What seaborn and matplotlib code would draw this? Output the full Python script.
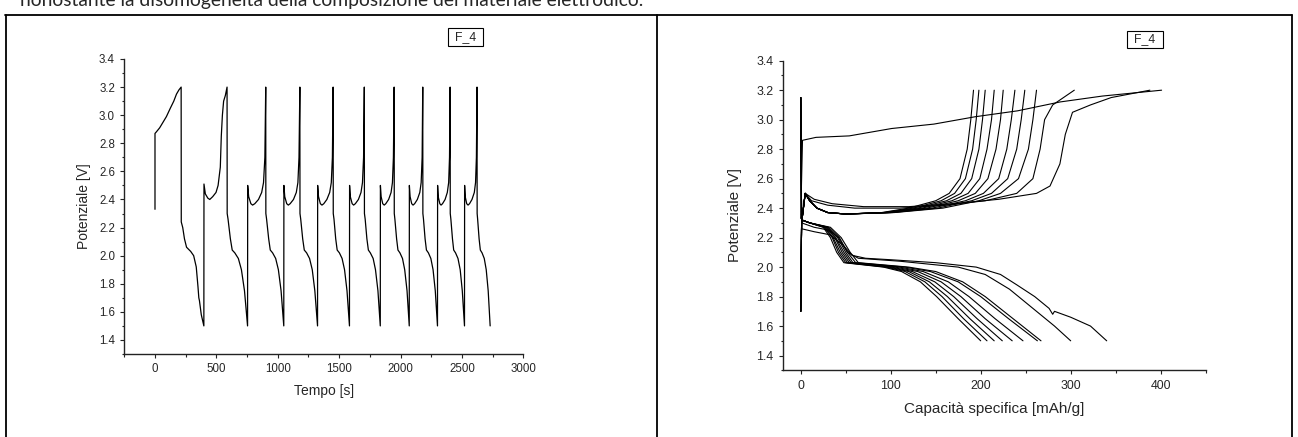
import matplotlib
matplotlib.use("Agg")
import matplotlib.pyplot as plt
from matplotlib.patches import Rectangle
from matplotlib.lines import Line2D
from matplotlib.ticker import MultipleLocator, FormatStrFormatter
import pandas as pd
import seaborn as sns

W, H = 1298, 437

# ---------------- left panel: potential vs time ----------------
FIRST_CHARGE_T = [0, 0, 10, 38, 65, 93, 125, 153, 175, 195, 213]
FIRST_CHARGE_V = [2.33, 2.87, 2.88, 2.91, 2.95, 2.99, 3.05, 3.10, 3.15, 3.18, 3.20]

DIS1_T = [213, 214, 226, 240, 257, 291, 315, 336, 350, 357, 362, 377, 398]
DIS1_V = [3.20, 2.24, 2.20, 2.12, 2.06, 2.03, 2.00, 1.92, 1.78, 1.70, 1.68, 1.58, 1.50]

CH2_T = [398, 399, 410, 430, 446, 470, 497, 514, 532, 540, 549, 559, 573, 587]
CH2_V = [1.50, 2.51, 2.44, 2.41, 2.40, 2.42, 2.45, 2.50, 2.63, 2.85, 3.00, 3.10, 3.14, 3.20]

# discharges of cycles 2..10 (same voltage readings, own time readings)
DIS_V = [3.20, 2.30, 2.26, 2.12, 2.04, 2.02, 1.98, 1.90, 1.75, 1.50]
DIS_T = [
    [587, 588, 595, 614, 629, 650, 679, 704, 729, 754],
    [902, 903, 909, 926, 939, 958, 983, 1005, 1027, 1049],
    [1180, 1181, 1187, 1203, 1216, 1235, 1259, 1281, 1302, 1324],
    [1451, 1452, 1458, 1472, 1484, 1502, 1524, 1544, 1564, 1584],
    [1705, 1706, 1712, 1726, 1738, 1754, 1777, 1796, 1816, 1835],
    [1948, 1949, 1954, 1968, 1979, 1995, 2016, 2034, 2053, 2071],
    [2181, 2182, 2187, 2200, 2211, 2227, 2247, 2265, 2283, 2301],
    [2404, 2405, 2410, 2423, 2433, 2448, 2468, 2486, 2503, 2521],
    [2623, 2624, 2628, 2640, 2650, 2664, 2682, 2698, 2714, 2730],
]

# charges of cycles 3..10
CH_V = [1.50, 2.50, 2.42, 2.37, 2.36, 2.37, 2.40, 2.45, 2.52, 2.70, 3.00, 3.20]
CH_T = [
    [754, 755, 763, 781, 795, 813, 843, 869, 884, 895, 899, 902],
    [1049, 1050, 1057, 1073, 1086, 1101, 1128, 1151, 1164, 1173, 1177, 1180],
    [1324, 1325, 1332, 1347, 1360, 1375, 1400, 1423, 1436, 1445, 1449, 1451],
    [1584, 1585, 1591, 1606, 1618, 1632, 1657, 1678, 1690, 1699, 1703, 1705],
    [1835, 1836, 1842, 1855, 1867, 1880, 1903, 1923, 1934, 1942, 1946, 1948],
    [2071, 2072, 2078, 2091, 2102, 2115, 2137, 2157, 2168, 2176, 2179, 2181],
    [2301, 2302, 2307, 2320, 2330, 2342, 2363, 2381, 2392, 2399, 2402, 2404],
    [2521, 2522, 2527, 2539, 2550, 2562, 2582, 2601, 2611, 2618, 2621, 2623],
]

# ---------------- right panel: potential vs specific capacity ----------------
FIRST_CAP = [0, 2, 17, 54, 101, 148, 194, 241, 288, 335, 401]
FIRST_CAP_V = [2.33, 2.86, 2.88, 2.89, 2.94, 2.97, 3.02, 3.06, 3.12, 3.16, 3.20]

CHG_V = [1.70, 2.30, 2.50, 2.45, 2.40, 2.37, 2.36, 2.37, 2.40, 2.45, 2.50, 2.60, 2.80, 3.00, 3.20]
CHG_CAP = [
    [0, 1, 5, 10, 18, 30, 50, 90, 120, 150, 165, 177, 185, 189, 192],
    [0, 1, 5, 10, 18, 30, 50, 92, 125, 156, 171, 183, 191, 195, 198],
    [0, 1, 5, 10, 18, 30, 50, 94, 130, 162, 178, 190, 198, 202, 205],
    [0, 1, 5, 10, 18, 30, 50, 96, 135, 168, 186, 199, 207, 212, 215],
    [0, 1, 5, 10, 18, 30, 50, 98, 140, 175, 194, 208, 217, 222, 225],
    [0, 1, 5, 10, 18, 30, 50, 100, 146, 183, 203, 220, 229, 234, 238],
    [0, 1, 5, 10, 18, 30, 50, 102, 152, 190, 212, 230, 240, 245, 249],
    [0, 1, 5, 10, 18, 30, 50, 104, 158, 198, 222, 242, 253, 258, 262],
]
CHG_LONG1_V = [1.70, 2.30, 2.50, 2.45, 2.42, 2.40, 2.40, 2.42, 2.45, 2.50, 2.60, 2.80, 3.00, 3.10, 3.15, 3.20]
CHG_LONG1_CAP = [0, 1, 5, 12, 30, 60, 110, 160, 205, 240, 258, 266, 271, 280, 292, 304]
CHG_LONG2_V = [1.70, 2.30, 2.50, 2.46, 2.43, 2.41, 2.41, 2.43, 2.46, 2.50, 2.55, 2.70, 2.90, 3.05, 3.10, 3.15, 3.20]
CHG_LONG2_CAP = [0, 1, 5, 15, 35, 70, 120, 170, 220, 262, 277, 288, 294, 302, 322, 345, 388]

DCH_V = [3.15, 2.32, 2.30, 2.27, 2.20, 2.10, 2.03, 2.00, 1.97, 1.90, 1.80, 1.65, 1.50]
DCH_CAP = [
    [0, 1, 10, 25, 33, 40, 48, 92, 112, 133, 151, 175, 200],
    [0, 1, 10, 26, 35, 42, 50, 95, 116, 138, 157, 181, 207],
    [0, 1, 10, 27, 36, 44, 52, 98, 120, 143, 163, 188, 215],
    [0, 1, 10, 28, 38, 46, 54, 101, 124, 149, 170, 196, 224],
    [0, 1, 10, 29, 39, 48, 56, 105, 130, 156, 178, 205, 235],
    [0, 1, 10, 30, 41, 50, 58, 110, 136, 164, 187, 216, 247],
    [0, 1, 10, 31, 43, 52, 61, 116, 144, 175, 200, 231, 263],
    [0, 1, 10, 33, 45, 55, 64, 120, 150, 180, 205, 236, 267],
]
DCH_LONG1_V = [3.15, 2.30, 2.27, 2.25, 2.20, 2.10, 2.06, 2.04, 2.00, 1.95, 1.85, 1.70, 1.60, 1.50]
DCH_LONG1_CAP = [0, 1, 15, 32, 42, 52, 64, 110, 175, 205, 232, 262, 282, 300]
DCH_LONG2_V = [3.15, 2.26, 2.24, 2.22, 2.15, 2.08, 2.06, 2.05, 2.03, 2.00, 1.95, 1.88, 1.80,
               1.72, 1.68, 1.70, 1.66, 1.60, 1.50]
DCH_LONG2_CAP = [0, 1, 15, 32, 47, 57, 72, 100, 150, 195, 222, 240, 260, 276, 280, 282, 300, 322, 340]

TOP_TEXT = "nonostante la disomogeneità della composizione del materiale elettrodico."

# ---------------- build tables ----------------
segs = [(FIRST_CHARGE_T, FIRST_CHARGE_V), (DIS1_T, DIS1_V), (CH2_T, CH2_V), (DIS_T[0], DIS_V)]
for i in range(len(CH_T)):
    segs += [(CH_T[i], CH_V), (DIS_T[i + 1], DIS_V)]
left_t, left_v = [], []
for t, v in segs:
    left_t += t
    left_v += v
left_df = pd.DataFrame({"t": left_t, "V": left_v})

curves = [(FIRST_CAP, FIRST_CAP_V), (CHG_LONG1_CAP, CHG_LONG1_V), (CHG_LONG2_CAP, CHG_LONG2_V),
          (DCH_LONG1_CAP, DCH_LONG1_V), (DCH_LONG2_CAP, DCH_LONG2_V)]
curves += [(c, CHG_V) for c in CHG_CAP]
curves += [(c, DCH_V) for c in DCH_CAP]
rows = []
for k, (c, v) in enumerate(curves):
    for ci, vi in zip(c, v):
        rows.append((k, ci, vi))
right_df = pd.DataFrame(rows, columns=["curve", "cap", "V"])

# ---------------- figure ----------------
sns.set_style("ticks")
plt.rcParams["font.family"] = ["Liberation Sans", "DejaVu Sans"]

fig = plt.figure(figsize=(W / 100, H / 100), dpi=100)


def frect(x0, y0, x1, y1):
    return [x0 / W, 1 - y1 / H, (x1 - x0) / W, (y1 - y0) / H]


ax1 = fig.add_axes(frect(124.3, 59, 523.3, 354))
ax2 = fig.add_axes(frect(782.7, 60.7, 1205.7, 370.3))

sns.lineplot(data=left_df, x="t", y="V", sort=False, estimator=None,
             color="black", lw=0.9, ax=ax1)
sns.lineplot(data=right_df, x="cap", y="V", units="curve", sort=False, estimator=None,
             color="black", lw=0.8, ax=ax2)

ax1.set_xlim(-250, 3000)
ax1.set_ylim(1.3, 3.4)
ax1.xaxis.set_major_locator(MultipleLocator(500))
ax1.xaxis.set_minor_locator(MultipleLocator(250))
ax2.set_xlim(-20, 450)
ax2.set_ylim(1.3, 3.4)
ax2.xaxis.set_major_locator(MultipleLocator(100))
ax2.xaxis.set_minor_locator(MultipleLocator(50))

for ax, tsize, lsize, xl, xlab_y, ylab_x in [
        (ax1, 8.3, 10, "Tempo [s]", -0.127, -0.101),
        (ax2, 8.9, 11, "Capacità specifica [mAh/g]", -0.125, -0.113)]:
    ax.yaxis.set_major_locator(MultipleLocator(0.2))
    ax.yaxis.set_minor_locator(MultipleLocator(0.1))
    ax.yaxis.set_major_formatter(FormatStrFormatter("%.1f"))
    for s in ["top", "right"]:
        ax.spines[s].set_visible(False)
    for s in ["left", "bottom"]:
        ax.spines[s].set_linewidth(1.0)
        ax.spines[s].set_color("#222222")
    ax.tick_params(which="major", direction="out", length=3.2, width=0.8,
                   labelsize=tsize, pad=3.5, color="#222222")
    ax.tick_params(which="minor", direction="out", length=1.8, width=0.8, color="#222222")
    ax.set_xlabel(xl, fontsize=lsize, va="center")
    ax.set_ylabel("Potenziale [V]", fontsize=lsize, va="center")
    ax.xaxis.set_label_coords(0.5, xlab_y)
    ax.yaxis.set_label_coords(ylab_x, 0.5)
    ax.set_facecolor("white")

# F_4 boxes
for x0, y0, x1, y1 in [(448, 28, 483, 46), (1127, 31, 1163, 48)]:
    fig.add_artist(Rectangle((x0 / W, 1 - y1 / H), (x1 - x0) / W, (y1 - y0) / H,
                             transform=fig.transFigure, fill=False, ec="black", lw=0.8))
    fig.text((x0 + x1) / 2 / W, 1 - (y0 + y1) / 2 / H, "F_4", ha="center", va="center",
             fontsize=8.8)

# table borders
border = dict(color="black", lw=1.3, transform=fig.transFigure)
fig.add_artist(Line2D([5 / W, 1292 / W], [1 - 14.5 / H, 1 - 14.5 / H], **border))
fig.add_artist(Line2D([5.5 / W, 5.5 / W], [0, 1 - 14.5 / H], **border))
fig.add_artist(Line2D([656.5 / W, 656.5 / W], [0, 1 - 14.5 / H], **border))
fig.add_artist(Line2D([1292 / W, 1292 / W], [0, 1 - 14.5 / H], **border))

# clipped caption line at the top (only its lower part lies inside the picture)
txt = fig.text(20 / W, 1 - 6 / H, TOP_TEXT, ha="left", va="baseline",
               fontsize=14, family=["Lato", "DejaVu Sans"])
fig.canvas.draw()
w = txt.get_window_extent(fig.canvas.get_renderer()).width
txt.set_fontsize(14 * 626 / w)

fig.savefig("out.png", dpi=100)
